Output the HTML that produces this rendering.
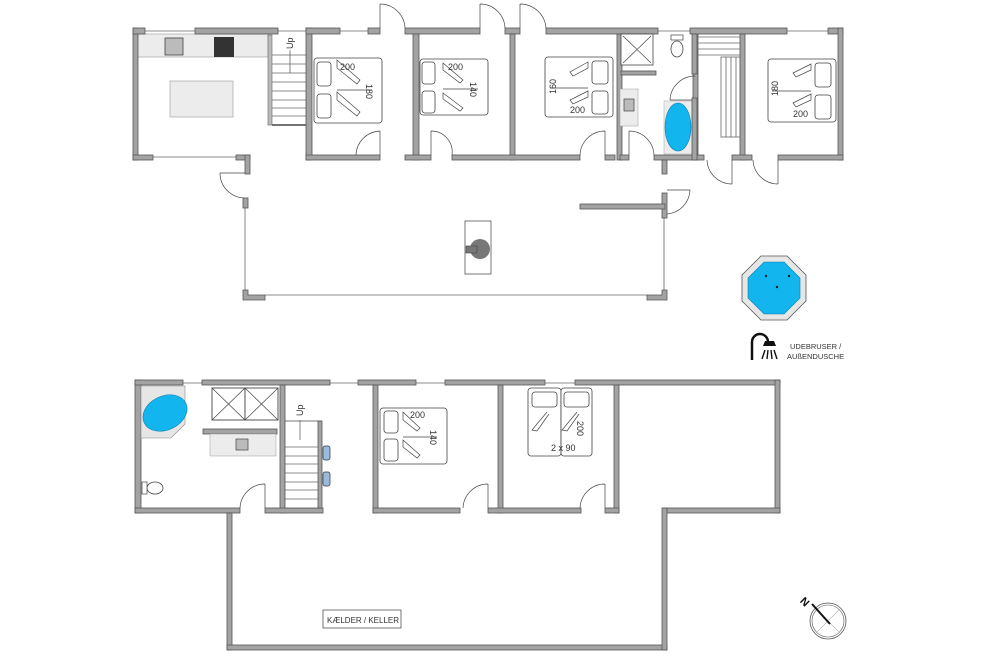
<!DOCTYPE html>
<html><head><meta charset="utf-8"><style>
html,body{margin:0;padding:0;background:#fff;width:1000px;height:667px;overflow:hidden}
svg{display:block}
.w{fill:#a3a3a3;stroke:#555;stroke-width:0.8}
.t{font-family:"Liberation Sans",sans-serif;font-size:9px;fill:#333}
.l{stroke:#666;stroke-width:0.8;fill:none}
.d{stroke:#444;stroke-width:0.7;fill:none}
.bed{fill:#fff;stroke:#444;stroke-width:0.8}
</style></head><body>
<svg width="1000" height="667" viewBox="0 0 1000 667" xmlns="http://www.w3.org/2000/svg">
<rect x="137" y="34" width="131" height="23" fill="#ececec" stroke="#999" stroke-width="0.6"/>
<rect x="165" y="38" width="18" height="17" fill="#bbb" stroke="#444" stroke-width="0.8"/>
<rect x="214" y="37" width="20" height="20" fill="#333"/>
<rect x="170" y="81" width="63" height="36" fill="#ececec" stroke="#999" stroke-width="0.6"/>
<rect class="w" x="133" y="28" width="5" height="132"/>
<rect class="w" x="133" y="28" width="12" height="6"/>
<line class="l" x1="145" y1="31" x2="195" y2="31"/>
<rect class="w" x="195" y="28" width="83" height="6"/>
<line class="l" x1="278" y1="31" x2="306" y2="31"/>
<rect class="w" x="133" y="155" width="20" height="5"/>
<line class="l" x1="153" y1="157" x2="237" y2="157"/>
<rect class="w" x="236" y="155" width="14" height="5"/>
<rect class="w" x="245" y="155" width="5" height="19"/>
<rect x="268" y="35" width="4" height="90" fill="#bbb" stroke="#666" stroke-width="0.6"/>
<g class="l">
<line x1="272" y1="55" x2="306" y2="55"/><line x1="272" y1="64" x2="306" y2="64"/><line x1="272" y1="73" x2="306" y2="73"/>
<line x1="272" y1="82" x2="306" y2="82"/><line x1="272" y1="91" x2="306" y2="91"/><line x1="272" y1="100" x2="306" y2="100"/>
<line x1="272" y1="108" x2="306" y2="108"/><line x1="272" y1="116" x2="306" y2="116"/>
<line x1="272" y1="125" x2="306" y2="125" stroke="#222" stroke-width="1.2"/>
<line x1="290" y1="50" x2="290" y2="73"/>
</g>
<text class="t" x="286" y="48" transform="rotate(-90 290 45)">Up</text>
<rect class="w" x="306" y="28" width="6" height="132"/>
<rect class="w" x="306" y="28" width="34" height="6"/>
<line class="l" x1="340" y1="31" x2="368" y2="31"/>
<rect class="w" x="368" y="28" width="12" height="6"/>
<rect class="w" x="405" y="28" width="75" height="6"/>
<rect class="w" x="505" y="28" width="15" height="6"/>
<rect class="w" x="546" y="28" width="112" height="6"/>
<line class="l" x1="658" y1="31" x2="690" y2="31"/>
<rect class="w" x="690" y="28" width="97" height="6"/>
<line class="l" x1="787" y1="31" x2="828" y2="31"/>
<rect class="w" x="828" y="28" width="15" height="6"/>
<rect class="w" x="838" y="28" width="5" height="132"/>
<rect class="w" x="413" y="34" width="6" height="126"/>
<rect class="w" x="510" y="34" width="5" height="126"/>
<rect class="w" x="617" y="34" width="5" height="126"/>
<rect class="w" x="693" y="34" width="5" height="126"/>
<rect class="w" x="740" y="34" width="5" height="126"/>
<rect class="w" x="306" y="155" width="74" height="5"/>
<rect class="w" x="405" y="155" width="26" height="5"/>
<rect class="w" x="452" y="155" width="128" height="5"/>
<rect class="w" x="605" y="155" width="10" height="5"/>
<rect class="w" x="620" y="155" width="9" height="5"/>
<rect class="w" x="654" y="155" width="50" height="5"/>
<rect class="w" x="732" y="155" width="20" height="5"/>
<rect class="w" x="778" y="155" width="65" height="5"/>
<g class="d">
<path d="M380 4 L380 28 M380 4 A25 25 0 0 1 405 28"/>
<path d="M480 4 L480 28 M480 4 A25 25 0 0 1 505 28"/>
<path d="M520 4 L520 28 M520 4 A26 26 0 0 1 546 28"/>
<path d="M380 131 L380 155 M380 131 A25 25 0 0 0 356 155"/>
<path d="M431 131 L431 155 M431 131 A21 21 0 0 1 452 155"/>
<path d="M605 131 L605 155 M605 131 A25 25 0 0 0 580 155"/>
<path d="M629 131 L629 155 M629 131 A25 25 0 0 1 654 155"/>
<path d="M670 100 L695 100 M670 100 A25 25 0 0 1 695 76"/>
<path d="M732 160 L732 184 M732 184 A25 25 0 0 1 707 160"/>
<path d="M778 160 L778 184 M778 184 A25 25 0 0 1 753 160"/>
<path d="M220 173 L245 173 M220 173 A25 25 0 0 0 245 198"/>
<path d="M667 190 L690 190 A25 25 0 0 1 667 214"/>
</g>
<g>
<rect class="bed" x="314" y="58" width="68" height="65" rx="3"/>
<rect class="bed" x="317" y="62" width="14" height="24" rx="3"/><rect class="bed" x="317" y="94" width="14" height="24" rx="3"/>
<path class="d" d="M337 60 L360 80 L357 84 L337 68 Z M337 92 L360 112 L357 116 L337 100 Z M337 90 L372 90"/>
<text class="t" x="340" y="70">200</text>
<text class="t" x="368" y="94" transform="rotate(90 372 88)">180</text>
<rect class="bed" x="420" y="59" width="68" height="56" rx="3"/>
<rect class="bed" x="422" y="62" width="13" height="22" rx="3"/><rect class="bed" x="422" y="91" width="13" height="22" rx="3"/>
<path class="d" d="M443 63 L463 80 L460 83 L443 70 Z M443 93 L463 108 L460 111 L443 99 Z M443 89 L478 89"/>
<text class="t" x="448" y="70">200</text>
<text class="t" x="472" y="92" transform="rotate(90 476 86)">140</text>
<rect class="bed" x="545" y="57" width="68" height="60" rx="3"/>
<rect class="bed" x="592" y="61" width="16" height="23" rx="3"/><rect class="bed" x="592" y="91" width="16" height="23" rx="3"/>
<path class="d" d="M588 62 L570 72 L573 76 L588 68 Z M588 91 L570 100 L573 104 L588 97 Z M550 88 L588 88"/>
<text class="t" x="570" y="113">200</text>
<text class="t" x="546" y="92" transform="rotate(-90 552 88)">160</text>
<rect class="bed" x="768" y="59" width="68" height="63" rx="3"/>
<rect class="bed" x="815" y="63" width="16" height="24" rx="3"/><rect class="bed" x="815" y="95" width="16" height="24" rx="3"/>
<path class="d" d="M811 64 L793 73 L796 77 L811 70 Z M811 94 L793 103 L796 107 L811 100 Z M772 91 L811 91"/>
<text class="t" x="793" y="117">200</text>
<text class="t" x="768" y="94" transform="rotate(-90 774 90)">180</text>
</g>
<rect x="621" y="34" width="32" height="31" fill="#fff" stroke="#444" stroke-width="0.8"/>
<path class="d" d="M623 36 L651 63 M651 36 L623 63"/>
<rect class="w" x="621" y="71" width="35" height="4"/>
<rect x="620" y="89" width="18" height="37" fill="#ececec" stroke="#999" stroke-width="0.5"/>
<rect x="624" y="99" width="10" height="12" fill="#bbb" stroke="#444" stroke-width="0.7"/>
<ellipse cx="677" cy="49" rx="6" ry="8" fill="#fff" stroke="#444" stroke-width="0.8"/>
<rect x="671" y="35" width="12" height="5" fill="#fff" stroke="#444" stroke-width="0.7"/>
<rect x="664" y="101" width="29" height="53" fill="#ececec" stroke="#aaa" stroke-width="0.5"/>
<ellipse cx="678" cy="127" rx="13" ry="24" fill="#12b5ee" stroke="#0a7fb0" stroke-width="0.6"/>
<rect class="w" x="692" y="34" width="5" height="40"/>
<rect class="w" x="692" y="98" width="5" height="62"/>
<g class="l">
<line x1="698" y1="37" x2="740" y2="37"/><line x1="698" y1="43" x2="740" y2="43"/><line x1="698" y1="49" x2="740" y2="49"/><line x1="698" y1="55" x2="740" y2="55"/>
<rect x="721" y="57" width="19" height="80"/>
<line x1="726" y1="57" x2="726" y2="137"/><line x1="731" y1="57" x2="731" y2="137"/><line x1="736" y1="57" x2="736" y2="137"/>
</g>
<rect class="w" x="243" y="198" width="5" height="10"/>
<line class="l" x1="245" y1="208" x2="245" y2="290"/>
<path class="w" d="M243 290 h5 v5 h17 v5 h-22 z"/>
<line class="l" x1="265" y1="295" x2="647" y2="295"/>
<path class="w" d="M662 290 h5 v10 h-20 v-5 h15 z"/>
<line class="l" x1="664" y1="218" x2="664" y2="290"/>
<rect class="w" x="662" y="160" width="5" height="14"/>
<rect class="w" x="662" y="193" width="5" height="25"/>
<rect class="w" x="580" y="204" width="85" height="5"/>
<rect x="465" y="221" width="26" height="53" fill="#fff" stroke="#555" stroke-width="0.8"/>
<circle cx="480" cy="249" r="10" fill="#777"/>
<rect x="466" y="246" width="11" height="7" fill="#777" stroke="#444" stroke-width="0.6"/>
<polygon points="761,256 787,256 806,275 806,301 787,320 761,320 742,301 742,275" fill="#e6e6e6" stroke="#555" stroke-width="0.8"/>
<polygon points="764,262 784,262 800,278 800,298 784,314 764,314 748,298 748,278" fill="#12b5ee" stroke="#0a7fb0" stroke-width="0.6"/>
<circle cx="766" cy="276" r="1.2" fill="#222"/><circle cx="789" cy="276" r="1.2" fill="#222"/><circle cx="777" cy="287" r="1.2" fill="#222"/>
<path d="M752 360 V342 A8 8 0 0 1 768 342" fill="none" stroke="#111" stroke-width="2.5"/>
<path d="M763 346 h13 l-2 -5 h-9 z" fill="#111"/>
<path d="M765 350 l-3 9 M768 350 l-1 9 M771 350 l1 9 M774 350 l3 9" stroke="#111" stroke-width="1.4"/>
<text class="t" x="790" y="349" style="font-size:7.5px">UDEBRUSER /</text>
<text class="t" x="787" y="359" style="font-size:7.5px">AUßENDUSCHE</text>

<rect class="w" x="135" y="380" width="6" height="133"/>
<rect class="w" x="135" y="380" width="48" height="5"/>
<line class="l" x1="183" y1="383" x2="202" y2="383"/>
<rect class="w" x="202" y="380" width="128" height="5"/>
<line class="l" x1="330" y1="383" x2="358" y2="383"/>
<rect class="w" x="358" y="380" width="58" height="5"/>
<line class="l" x1="416" y1="383" x2="445" y2="383"/>
<rect class="w" x="445" y="380" width="100" height="5"/>
<line class="l" x1="545" y1="383" x2="575" y2="383"/>
<rect class="w" x="575" y="380" width="205" height="5"/>
<rect class="w" x="775" y="380" width="5" height="133"/>
<rect class="w" x="280" y="385" width="5" height="128"/>
<rect class="w" x="373" y="385" width="5" height="128"/>
<rect class="w" x="498" y="385" width="5" height="128"/>
<rect class="w" x="614" y="385" width="5" height="128"/>
<rect class="w" x="135" y="508" width="105" height="5"/>
<rect class="w" x="265" y="508" width="58" height="5"/>
<rect class="w" x="373" y="508" width="87" height="5"/>
<rect class="w" x="488" y="508" width="93" height="5"/>
<rect class="w" x="605" y="508" width="14" height="5"/>
<rect class="w" x="663" y="508" width="117" height="5"/>
<rect class="w" x="227" y="513" width="5" height="137"/>
<rect class="w" x="227" y="645" width="440" height="5"/>
<rect class="w" x="662" y="508" width="5" height="142"/>
<rect x="323" y="610" width="78" height="18" fill="#fff" stroke="#555" stroke-width="0.8"/>
<text class="t" x="327" y="623" style="font-size:8px">KÆLDER / KELLER</text>
<path d="M141 386 h44 v38 l-14 14 h-30 z" fill="#e6e6e6" stroke="#888" stroke-width="0.6"/>
<ellipse cx="165" cy="413" rx="23" ry="17" transform="rotate(-25 165 413)" fill="#12b5ee" stroke="#0a7fb0" stroke-width="0.6"/>
<rect x="212" y="388" width="33" height="32" fill="#fff" stroke="#444" stroke-width="0.9"/>
<rect x="245" y="388" width="33" height="32" fill="#fff" stroke="#444" stroke-width="0.9"/>
<path class="d" d="M212 388 L245 420 M245 388 L212 420 M245 388 L278 420 M278 388 L245 420"/>
<rect class="w" x="203" y="429" width="74" height="5"/>
<rect x="210" y="434" width="66" height="22" fill="#ececec" stroke="#999" stroke-width="0.5"/>
<rect x="236" y="439" width="12" height="11" fill="#bbb" stroke="#444" stroke-width="0.7"/>
<ellipse cx="155" cy="488" rx="8" ry="6" fill="#fff" stroke="#444" stroke-width="0.8"/>
<rect x="142" y="482" width="5" height="12" fill="#fff" stroke="#444" stroke-width="0.7"/>
<rect x="285" y="421" width="36" height="87" fill="#fff" stroke="#555" stroke-width="0.8"/>
<rect class="w" x="318" y="421" width="4" height="87"/>
<g class="l">
<line x1="285" y1="447" x2="318" y2="447"/><line x1="285" y1="456" x2="318" y2="456"/><line x1="285" y1="464" x2="318" y2="464"/>
<line x1="285" y1="473" x2="318" y2="473"/><line x1="285" y1="482" x2="318" y2="482"/><line x1="285" y1="490" x2="318" y2="490"/><line x1="285" y1="499" x2="318" y2="499"/>
<line x1="300" y1="420" x2="300" y2="440"/>
</g>
<text class="t" x="296" y="415" transform="rotate(-90 300 412)">Up</text>
<rect x="323" y="446" width="7" height="14" rx="2" fill="#9bd" stroke="#333" stroke-width="0.7"/>
<rect x="323" y="472" width="7" height="14" rx="2" fill="#9bd" stroke="#333" stroke-width="0.7"/>
<rect class="bed" x="380" y="408" width="67" height="56" rx="3"/>
<rect class="bed" x="384" y="411" width="14" height="22" rx="3"/><rect class="bed" x="384" y="439" width="14" height="22" rx="3"/>
<path class="d" d="M403 412 L420 428 L417 431 L403 420 Z M403 440 L420 455 L417 458 L403 447 Z M403 437 L437 437"/>
<text class="t" x="410" y="418">200</text>
<text class="t" x="432" y="440" transform="rotate(90 436 434)">140</text>
<rect class="bed" x="528" y="388" width="33" height="68" rx="3"/><rect class="bed" x="561" y="388" width="31" height="68" rx="3"/>
<rect class="bed" x="532" y="392" width="25" height="15" rx="3"/><rect class="bed" x="564" y="392" width="25" height="15" rx="3"/>
<path class="d" d="M547 412 L532 430 L537 431 L549 414 M577 412 L562 430 L567 431 L579 414"/>
<text class="t" x="551" y="451">2 x 90</text>
<text class="t" x="578" y="430" transform="rotate(90 582 425)">200</text>
<g class="d">
<path d="M265 484 L265 508 M265 484 A25 25 0 0 0 240 508"/>
<path d="M488 484 L488 508 M488 484 A25 25 0 0 0 463 508"/>
<path d="M605 484 L605 508 M605 484 A25 25 0 0 0 580 508"/>
</g>
<circle cx="828" cy="621" r="18" fill="none" stroke="#555" stroke-width="0.8"/>
<circle cx="828" cy="621" r="16" fill="none" stroke="#555" stroke-width="0.6"/>
<path d="M817 610 L839 632 M839 610 L817 632" stroke="#888" stroke-width="0.5"/>
<line x1="812" y1="604" x2="830" y2="624" stroke="#111" stroke-width="2"/>
<text x="800" y="606" transform="rotate(45 805 603)" style="font-family:'Liberation Sans',sans-serif;font-size:11px;font-weight:bold" fill="#111">N</text>
</svg>
</body></html>
